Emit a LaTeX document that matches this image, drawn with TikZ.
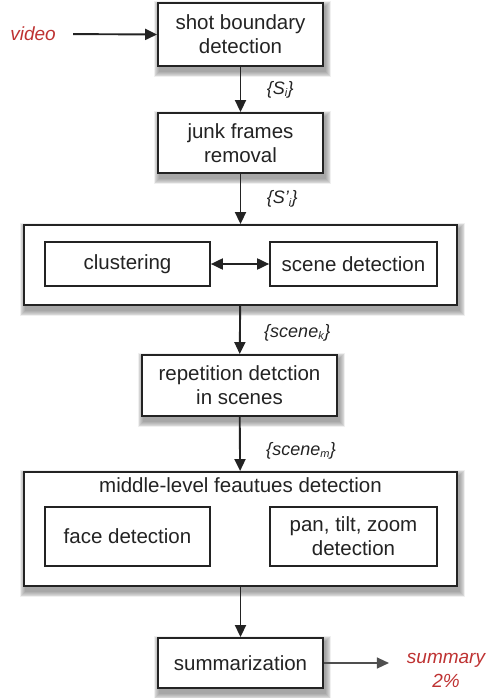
\documentclass[tikz,border=0pt]{standalone}
\usepackage{fontspec}
\setmainfont{Liberation Sans}
\usetikzlibrary{arrows.meta,calc,backgrounds}
\definecolor{ink}{RGB}{35,35,35}
\definecolor{redtxt}{RGB}{190,50,50}
\tikzset{
  box/.style={draw=ink, line width=1.9pt, fill=white, rectangle, inner sep=0pt,
    align=center, text=ink, font=\fontsize{20.5}{24}\selectfont},
  inbox/.style={draw=ink, line width=1.7pt, fill=white, rectangle, inner sep=0pt,
    align=center, text=ink, font=\fontsize{20.5}{24}\selectfont},
  tip/.tip={Triangle[length=12pt,width=11pt]},
  flow/.style={draw=ink, line width=1.9pt, -tip},
  lbl/.style={font=\fontsize{18}{20}\selectfont\itshape, text=ink, anchor=west},
  redlbl/.style={font=\fontsize{19}{24}\selectfont\itshape, text=redtxt, align=center},
  softshadow/.style={fill=black, fill opacity=0.06, draw=none},
}
\begin{document}
\begin{tikzpicture}[x=1pt,y=-1pt]
\useasboundingbox (0,0) rectangle (490,698);

% main chain of processing stages
\node[box, minimum width=165pt, minimum height=63pt] (b1) at (240.5,34.5) {shot boundary\\detection};
\node[box, minimum width=165pt, minimum height=60pt] (b2) at (240.5,143) {junk frames\\removal};
\node[box, minimum width=433pt, minimum height=80pt] (g1) at (240.5,265) {};
\node[inbox, minimum width=165pt, minimum height=44pt] (clu) at (127.5,264) {clustering};
\node[inbox, minimum width=167pt, minimum height=44pt] (scd) at (353.5,264) {scene detection};
\node[box, minimum width=195pt, minimum height=61pt] (rep) at (239.5,385.5) {repetition detction\\in scenes};
\node[box, minimum width=433pt, minimum height=114pt] (g2) at (240.5,529) {};
\node[text=ink, font=\fontsize{20.5}{24}\selectfont] (g2t) at (240.5,485) {middle-level feautues detection};
\node[inbox, minimum width=165pt, minimum height=59pt] (face) at (127.5,536.5) {face detection};
\node[inbox, minimum width=167pt, minimum height=59pt] (ptz) at (353.5,536.5) {pan, tilt, zoom\\detection};
\node[box, minimum width=165pt, minimum height=50pt] (sum) at (240.5,663) {summarization};

% soft drop shadows behind the outer boxes
\begin{scope}[on background layer]
  \foreach \n in {b1,b2,g1,rep,g2,sum}
    \foreach \k in {0,1,...,6}
      \fill[softshadow] ($(\n.north west)+(2-\k*0.9,4-\k*0.9)$) rectangle ($(\n.south east)+(2+\k*0.9,5+\k*0.9)$);
\end{scope}

% input and output
\node[redlbl] (vid) at (33,34) {video};
\node[redlbl] (out) at (446,670) {summary\\2\%};

% connectors
\draw[flow, shorten <=14pt] (vid.east) -- (b1.west);
\draw[flow] (b1) -- node[lbl, xshift=22pt, pos=0.5] (l1) {\{S\textsubscript{\fontsize{11}{12}\selectfont i}\}} (b2);
\draw[flow] (b2) -- node[lbl, xshift=22pt, pos=0.5] (l2) {\{S'\textsubscript{\fontsize{11}{12}\selectfont i}\}} (g1);
\draw[draw=ink, line width=1.9pt, tip-tip] (clu) -- (scd);
\draw[flow] (g1) -- node[lbl, xshift=20pt, pos=0.55] (l3) {\{scene\textsubscript{\fontsize{11}{12}\selectfont k}\}} (rep);
\draw[flow] (rep) -- node[lbl, xshift=22pt, pos=0.62] (l4) {\{scene\textsubscript{\fontsize{11}{12}\selectfont m}\}} (g2);
\draw[flow] (g2) -- (sum);
\draw[draw=ink!80, line width=1.3pt, -tip] (sum.east) -- ++(65,0) coordinate (outend);
\end{tikzpicture}
\end{document}
